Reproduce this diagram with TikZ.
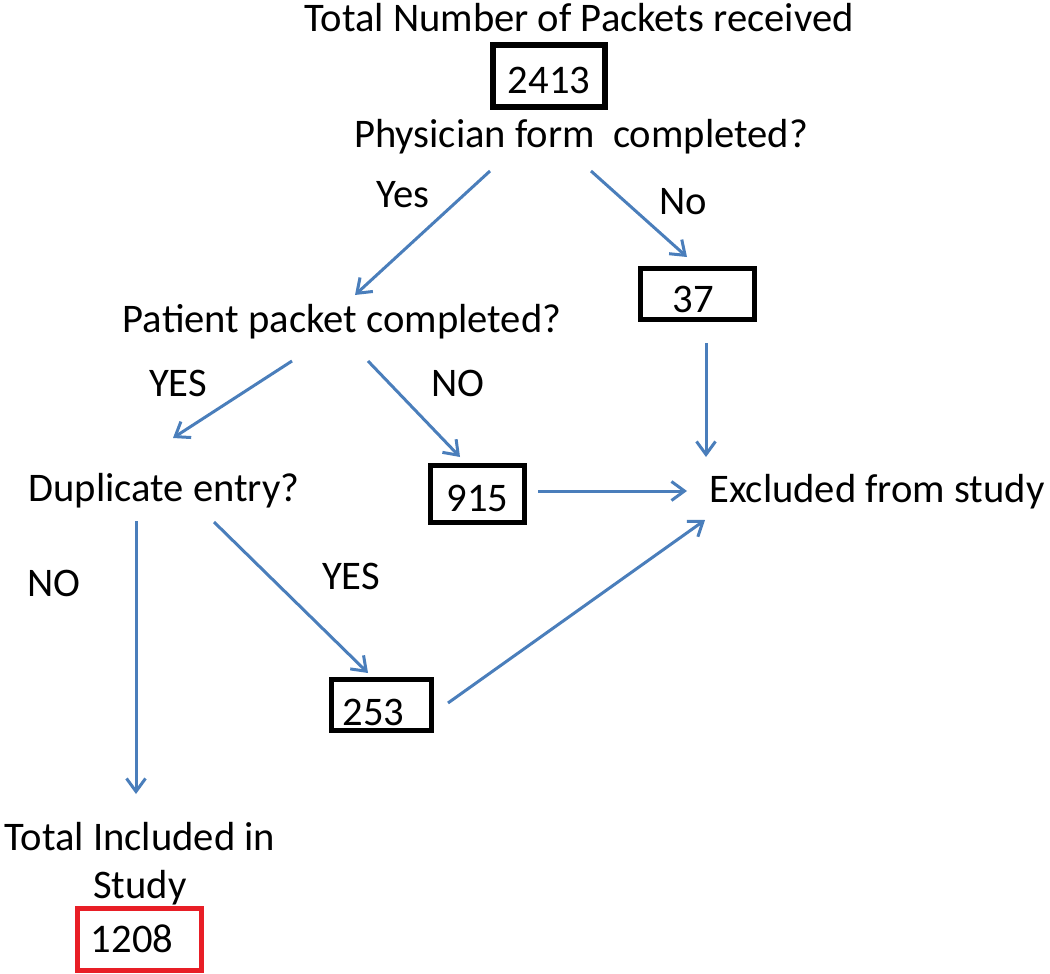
\documentclass[tikz,border=0pt]{standalone}
\usepackage{fontspec}
\setmainfont{Carlito}
\usetikzlibrary{arrows.meta}
\definecolor{flowblue}{RGB}{74,126,187}
\definecolor{boxred}{RGB}{232,30,38}
\begin{document}
\begin{tikzpicture}[x=1pt,y=-1pt,
  lbl/.style={inner sep=0pt,font=\fontsize{40.6}{48}\selectfont,anchor=center},
  numbox/.style={draw=black,line width=5pt,inner sep=0pt,text depth=0pt,font=\fontsize{40.6}{48}\selectfont},
  flow/.style={draw=flowblue,line width=3pt,-{Straight Barb[length=13pt,width=19pt,line width=3pt]}}]
\useasboundingbox (0,0) rectangle (1050,974);
% text nodes
\node[lbl] (title) at (579,18) {Total Number of Packets received};
\node[numbox,line width=6pt,minimum width=112pt,minimum height=62pt,text height=35.7pt] (n2413) at (549,76) {2413};
\node[lbl] (phys) at (581,137) {Physician form\ \ completed?};
\node[lbl] (yes1) at (403,195) {Yes};
\node[lbl] (no1) at (683,202) {No};
\node[numbox,minimum width=114pt,minimum height=51pt,text height=36.7pt] (n37) at (697.5,294) {\hspace*{-8pt}37};
\node[lbl] (pat) at (342,322) {Patient packet completed?};
\node[lbl] (yes2) at (178,383) {YES};
\node[lbl] (no2) at (458,383) {NO};
\node[lbl] (dup) at (164,491) {Duplicate entry?};
\node[numbox,minimum width=94pt,minimum height=57pt,text height=34.7pt] (n915) at (477.5,494) {915};
\node[lbl] (excl) at (877,492) {Excluded from study};
\node[lbl] (no3) at (54,583) {NO};
\node[lbl] (yes3) at (351,576) {YES};
\node[numbox,minimum width=100pt,minimum height=51pt,text height=40.7pt] (n253) at (381.5,705) {\hspace*{-16pt}253};
\node[lbl,align=center] (incl) at (140,864) {Total Included in\\Study};
\node[numbox,draw=boxred,minimum width=124pt,minimum height=62pt,text height=25.7pt] (n1208) at (139.5,939.5) {\hspace*{-15pt}1208};
% connector end points
\coordinate (pY) at (490,171);
\coordinate (pYe) at (355,295);
\coordinate (pN) at (591,171);
\coordinate (pNe) at (687,257);
\coordinate (aY) at (292,361);
\coordinate (aYe) at (173,438);
\coordinate (aN) at (368,361);
\coordinate (aNe) at (460,457);
\coordinate (c37) at (706,343);
\coordinate (c37e) at (706,457);
\coordinate (c915) at (538,491);
\coordinate (c915e) at (687,491);
\coordinate (dN) at (136,521);
\coordinate (dNe) at (136,794);
\coordinate (dY) at (214,522);
\coordinate (dYe) at (368,673);
\coordinate (c253) at (448,703);
\coordinate (c253e) at (705,520);
% connectors
\draw[flow] (pY) -- (pYe);
\draw[flow] (pN) -- (pNe);
\draw[flow] (aY) -- (aYe);
\draw[flow] (aN) -- (aNe);
\draw[flow] (c37) -- (c37e);
\draw[flow] (c915) -- (c915e);
\draw[flow] (dN) -- (dNe);
\draw[flow] (dY) -- (dYe);
\draw[flow] (c253) -- (c253e);
\end{tikzpicture}
\end{document}
